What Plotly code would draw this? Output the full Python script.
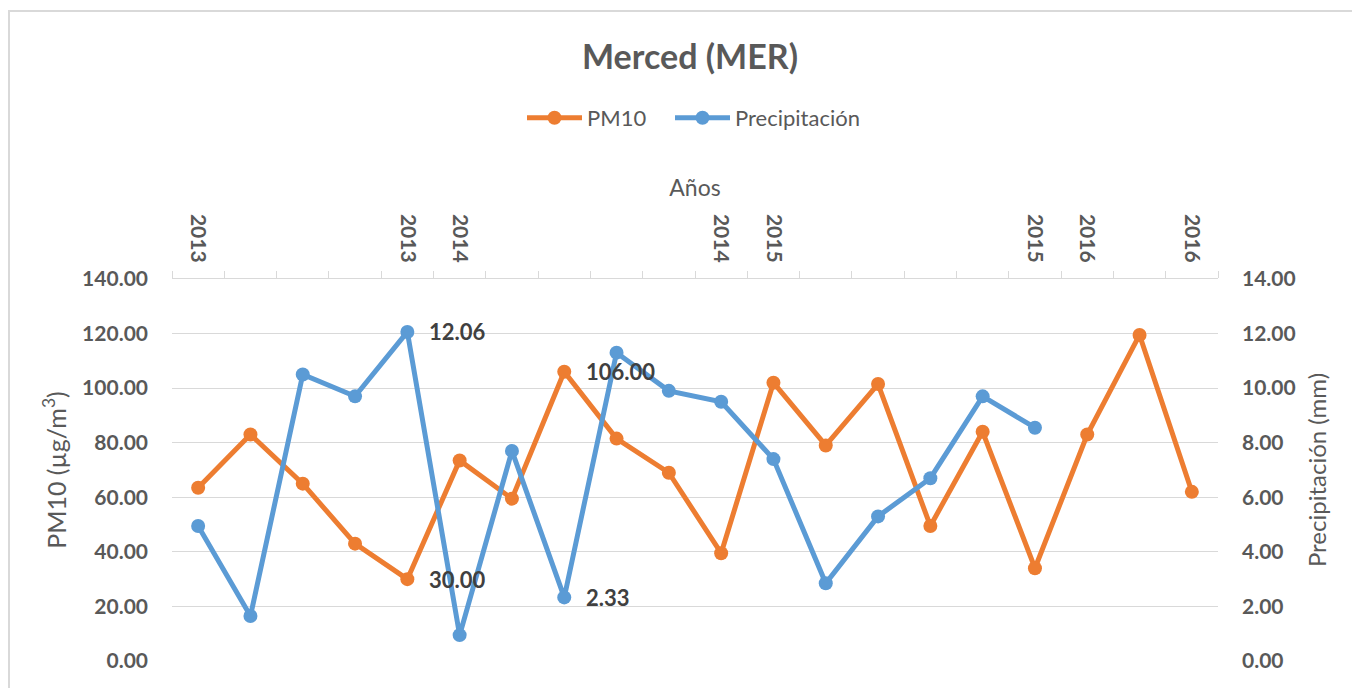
import plotly.graph_objects as go

# Data
x_idx = list(range(20))
tick_labels = ["2013", "", "", "", "2013", "2014", "", "", "", "", "2014", "2015",
               "", "", "", "", "2015", "2016", "", "2016"]
pm10 = [63.5, 83.0, 65.0, 43.0, 30.0, 73.5, 59.5, 106.0, 81.5, 69.0,
        39.5, 102.0, 79.0, 101.5, 49.5, 84.0, 34.0, 83.0, 119.5, 62.0]
precip = [4.95, 1.65, 10.5, 9.7, 12.06, 0.95, 7.7, 2.33, 11.3, 9.9,
          9.5, 7.4, 2.85, 5.3, 6.7, 9.7, 8.55, None, None, None]
pm10_label_idx = [4, 7]
precip_label_idx = [4, 7]

ORANGE = "#ED7D31"
BLUE = "#5B9BD5"
GRAY = "#595959"
GRID = "#D9D9D9"
FONT = "Lato"

OFF = 8  # page body margin
W, H = 1360 - OFF, 688 - OFF
L, R, T, B = 172 - OFF, 1218 - OFF, 279 - OFF, 661 - OFF

fig = go.Figure()
fig.add_trace(go.Scatter(x=x_idx, y=pm10, name="PM10", mode="lines+markers",
                         line=dict(color=ORANGE, width=5),
                         marker=dict(color=ORANGE, size=14), yaxis="y", legend="legend"))
fig.add_trace(go.Scatter(x=x_idx, y=precip, name="Precipitación", mode="lines+markers",
                         line=dict(color=BLUE, width=5),
                         marker=dict(color=BLUE, size=14), yaxis="y2", legend="legend2"))

lab_font = dict(family=FONT, size=22, color="#404040", weight="bold")
annots = []
for i in pm10_label_idx:
    annots.append(dict(x=x_idx[i], y=pm10[i], xref="x", yref="y", text=f"{pm10[i]:.2f}",
                       showarrow=False, xanchor="left", yanchor="middle", xshift=20,
                       font=lab_font))
for i in precip_label_idx:
    annots.append(dict(x=x_idx[i], y=precip[i], xref="x", yref="y2", text=f"{precip[i]:.2f}",
                       showarrow=False, xanchor="left", yanchor="middle", xshift=20,
                       font=lab_font))

pw, ph = R - L, B - T
def px_x(p):
    return (p - OFF - L) / pw
def px_y(p):
    return (B - (p - OFF)) / ph

leg_common = dict(orientation="h", xanchor="left", y=px_y(118), yanchor="middle",
                  itemwidth=55,
                  font=dict(family=FONT, size=22, color=GRAY), bgcolor="rgba(0,0,0,0)")

fig.update_layout(
    width=W, height=H,
    margin=dict(l=L, r=W - R, t=T, b=H - B),
    paper_bgcolor="white", plot_bgcolor="white",
    font=dict(family=FONT, color=GRAY),
    title=dict(text="<b>Merced (MER)</b>", x=(690 - OFF) / W, xanchor="center",
               y=1 - (57 - OFF) / H, yanchor="middle", yref="container",
               font=dict(family=FONT, size=34, color=GRAY)),
    legend=dict(x=px_x(522), **leg_common),
    legend2=dict(x=px_x(670), **leg_common),
    showlegend=True,
    xaxis=dict(range=[-0.5, 19.5], side="top", tickmode="array", tickvals=x_idx,
               ticktext=tick_labels, tickangle=90, ticks="",
               tickfont=dict(family=FONT, size=21, color=GRAY, weight="bold"),
               showgrid=False, zeroline=False, showline=True, linecolor=GRID, linewidth=1,
               minor=dict(tickmode="linear", tick0=-0.5, dtick=1, ticks="outside",
                          ticklen=7, tickcolor=GRID, showgrid=False),
               title=dict(text="Años", font=dict(family=FONT, size=23, color=GRAY), standoff=10),
               ticklabelstandoff=8),
    yaxis=dict(range=[0, 140], dtick=20, tickformat=".2f", showgrid=True, gridcolor=GRID,
               zeroline=False, showline=False, ticks="",
               tickfont=dict(family=FONT, size=21, color=GRAY, weight="bold"),
               ticklabelstandoff=23,
               title=dict(text="PM10 (µg/m<sup>3</sup>)", font=dict(family=FONT, size=25, color=GRAY),
                          standoff=8)),
    yaxis2=dict(range=[0, 14], dtick=2, tickformat=".2f", overlaying="y", side="right",
                showgrid=False, zeroline=False, showline=False, ticks="",
                tickfont=dict(family=FONT, size=21, color=GRAY, weight="bold"),
                ticklabelstandoff=23,
                title=dict(text="Precipitación (mm)", font=dict(family=FONT, size=24, color=GRAY),
                           standoff=14)),
    annotations=annots,
    shapes=[dict(type="rect", xref="paper", yref="paper",
                 x0=px_x(9), x1=px_x(1380), y0=px_y(720), y1=px_y(11),
                 line=dict(color=GRID, width=2), fillcolor="rgba(0,0,0,0)", layer="below")],
)

fig.write_html("out.html")
